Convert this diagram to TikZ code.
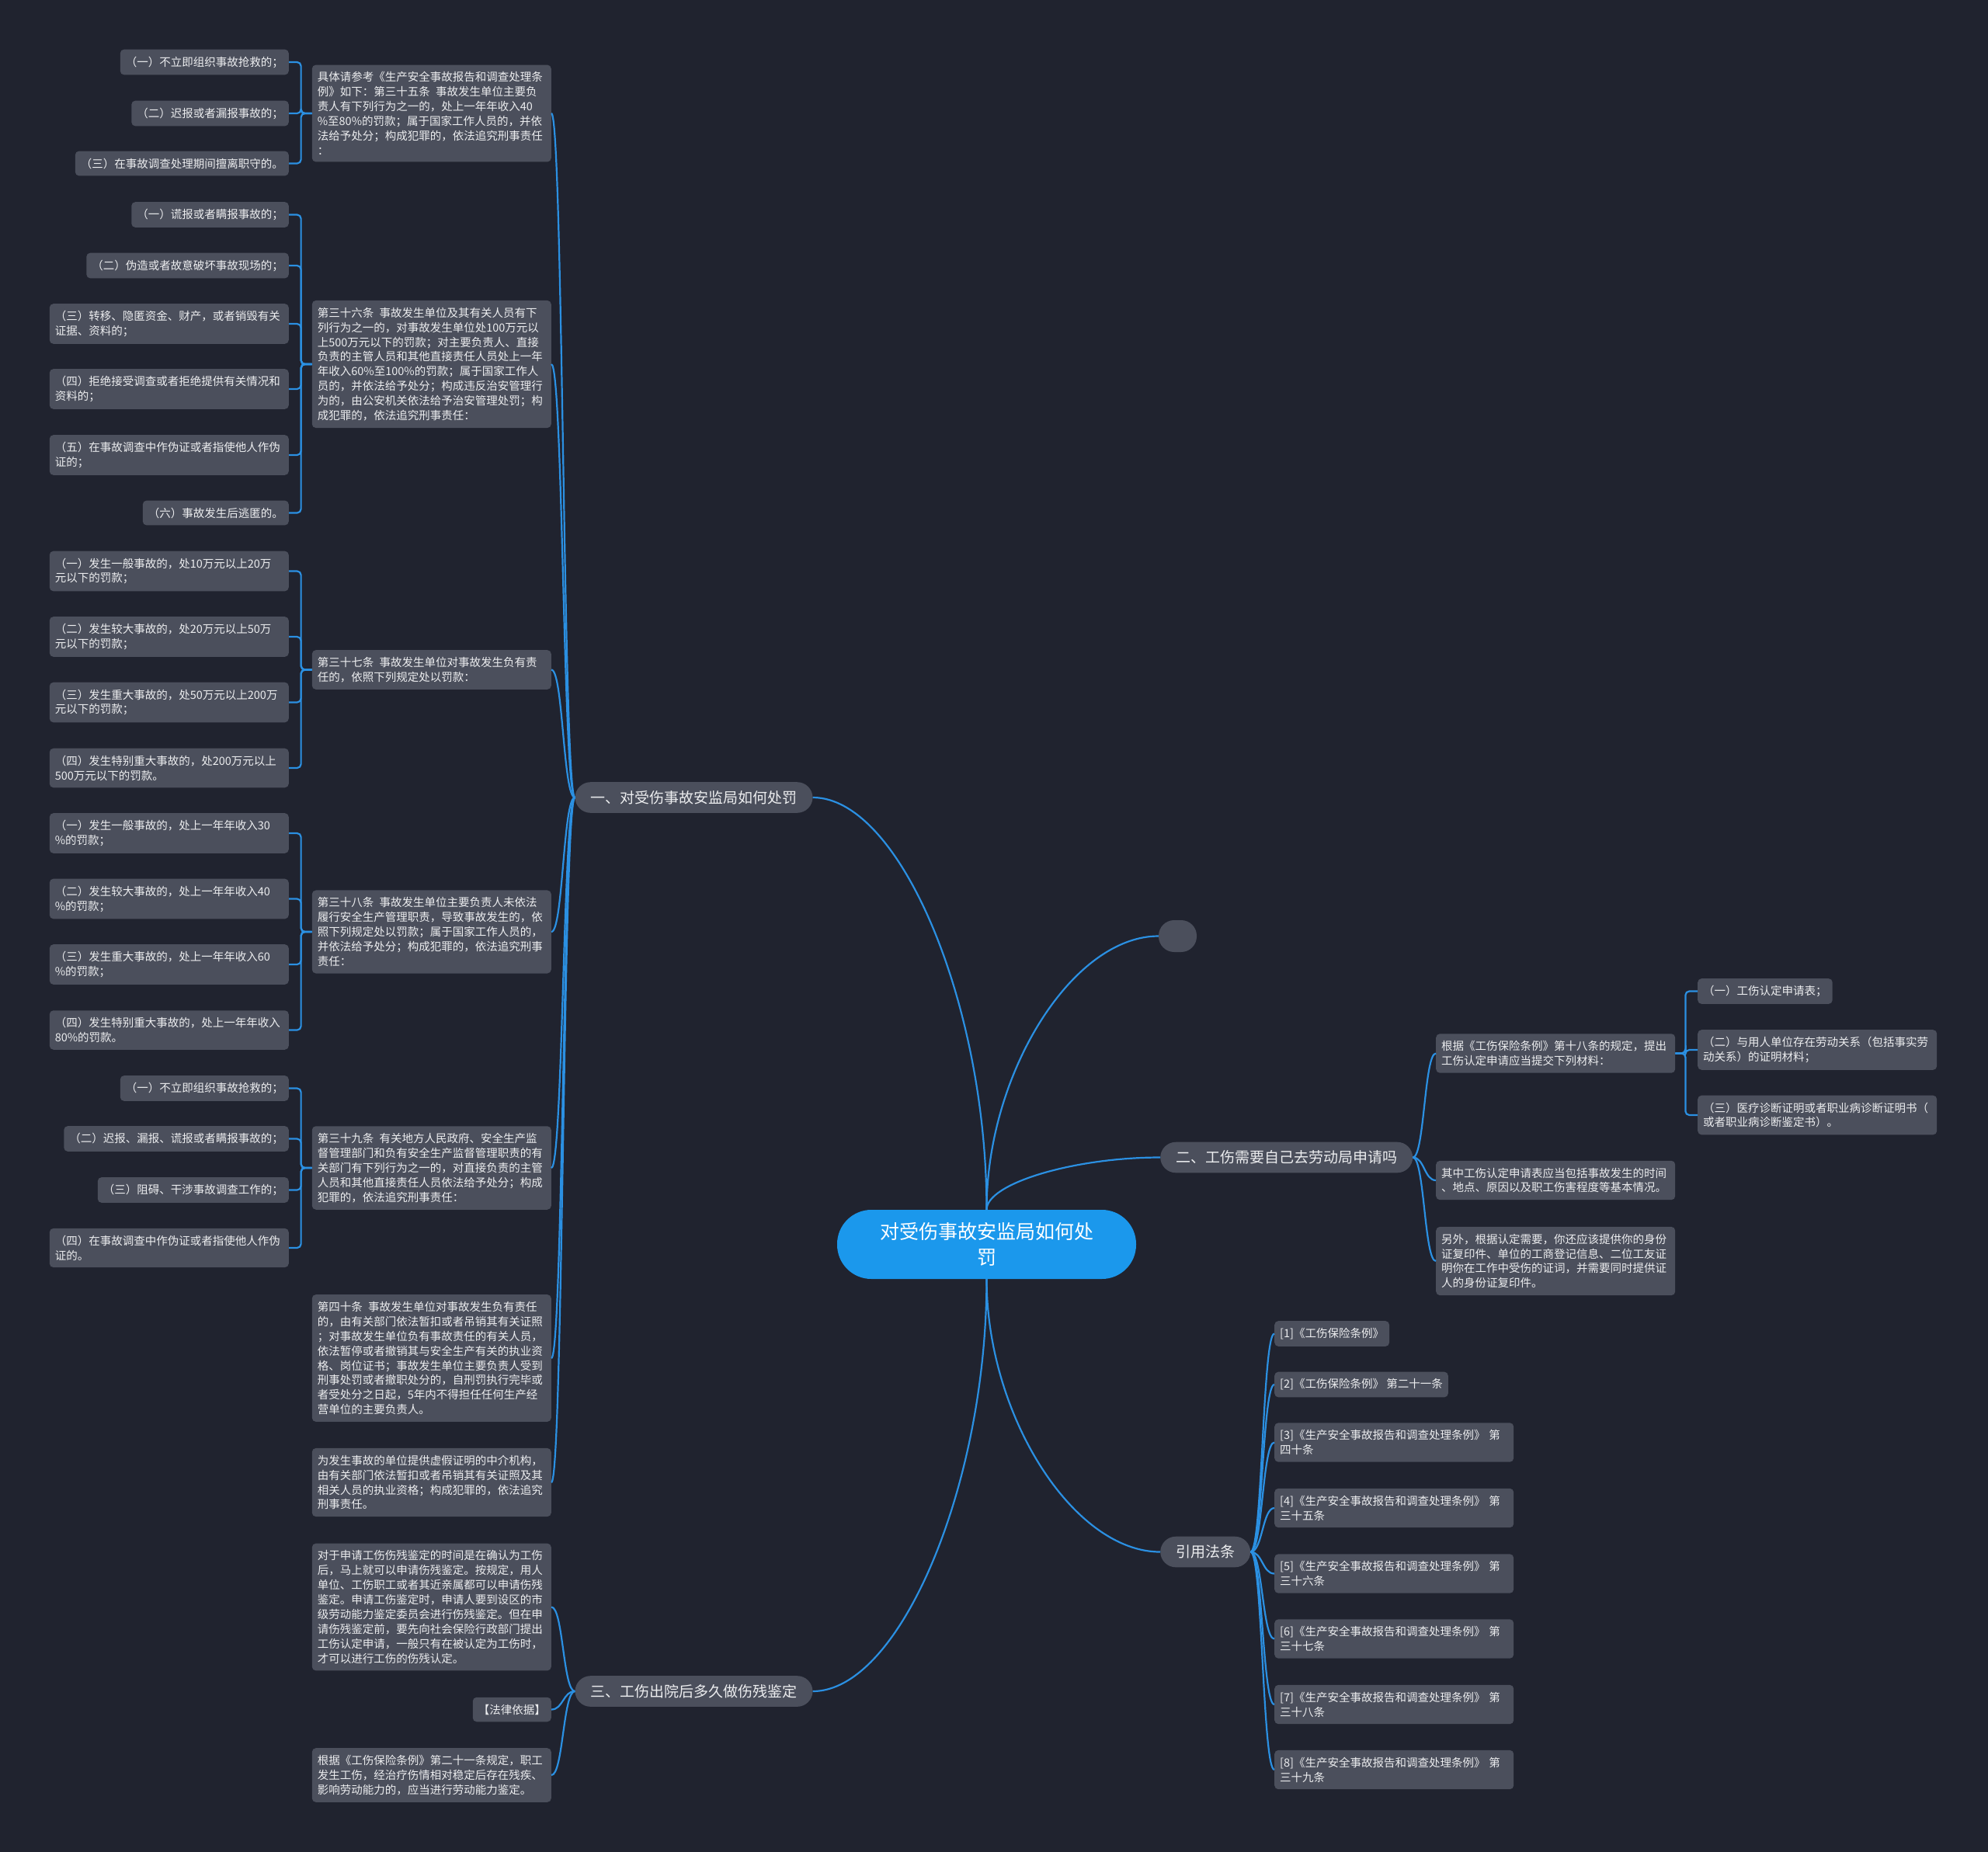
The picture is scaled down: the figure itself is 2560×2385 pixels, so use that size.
\documentclass[tikz,border=0pt]{standalone}
\usepackage{fontspec}
\setmainfont{Noto Sans CJK SC}
\usepackage{xcolor}
\usepackage{tikz}
\usetikzlibrary{calc, positioning}
\definecolor{bgcol}{HTML}{20232F}
\definecolor{boxcol}{HTML}{4B4F5C}
\definecolor{linecol}{HTML}{2B90E2}
\definecolor{rootcol}{HTML}{1B98EC}
\definecolor{txtcol}{HTML}{ECEDEF}
\newcommand{\leaffont}{\fontsize{14.5}{18.9}\selectfont}
\newcommand{\topicfont}{\fontsize{19}{24}\selectfont}
\newcommand{\rootfont}{\fontsize{25}{33}\selectfont}
\tikzstyle{leaf}=[rectangle, rounded corners=5pt, fill=boxcol, text=txtcol, font=\leaffont, inner xsep=7pt, inner ysep=9pt]
\tikzstyle{wide}=[leaf, text width=294pt, align=left]
\tikzstyle{topic}=[rectangle, rounded corners=20pt, fill=boxcol, text=txtcol, font=\topicfont, inner xsep=20pt, inner ysep=11pt]
\tikzstyle{rootbox}=[rectangle, rounded corners=44pt, fill=rootcol, text=white, font=\rootfont, align=center, minimum width=385pt, minimum height=89pt]

\begin{document}
\begin{tikzpicture}[x=1pt, y=1pt]

\tikzset{link/.style={draw=linecol, line width=2.2pt}}
\tikzset{vcurve/.style={to path={.. controls ($(\tikztostart)!.5!(\tikztostart |- \tikztotarget)$) and ($(\tikztotarget)!.5!(\tikztostart |- \tikztotarget)$) .. (\tikztotarget)}}}
\tikzset{hcurve/.style={to path={.. controls ($(\tikztostart)!.5!(\tikztotarget |- \tikztostart)$) and ($(\tikztotarget)!.5!(\tikztostart |- \tikztotarget)$) .. (\tikztotarget)}}}

% Background
\fill[bgcol] (0,0) rectangle (2560,-2385);

% Centre and main topics
\node[rootbox] (root) at (1270.5,-1602.5) {对受伤事故安监局如何处\\罚};
\node[topic] (t1) at (893.5,-1027) {一、对受伤事故安监局如何处罚};
\node[topic] (t3) at (893.5,-2178) {三、工伤出院后多久做伤残鉴定};
\node[topic, anchor=west] (t2) at (1494,-1490.5) {二、工伤需要自己去劳动局申请吗};
\node[topic, anchor=west] (t4) at (1494,-1998.5) {引用法条};
\node[rectangle, rounded corners=20pt, fill=boxcol, minimum width=49pt, minimum height=41pt] (blank) at (1516.5,-1205.5) {};

% Branch one: articles
\node[wide, anchor=east] (t1-1) at (710,-146) {具体请参考《生产安全事故报告和调查处理条\\例》如下：第三十五条\enspace 事故发生单位主要负\\责人有下列行为之一的，处上一年年收入40\\\%至80\%的罚款；属于国家工作人员的，并依\\法给予处分；构成犯罪的，依法追究刑事责任\\：};
\node[wide, anchor=east] (t1-2) at (710,-469) {第三十六条\enspace 事故发生单位及其有关人员有下\\列行为之一的，对事故发生单位处100万元以\\上500万元以下的罚款；对主要负责人、直接\\负责的主管人员和其他直接责任人员处上一年\\年收入60\%至100\%的罚款；属于国家工作人\\员的，并依法给予处分；构成违反治安管理行\\为的，由公安机关依法给予治安管理处罚；构\\成犯罪的，依法追究刑事责任：};
\node[wide, anchor=east] (t1-3) at (710,-862.5) {第三十七条\enspace 事故发生单位对事故发生负有责\\任的，依照下列规定处以罚款：};
\node[wide, anchor=east] (t1-4) at (710,-1200) {第三十八条\enspace 事故发生单位主要负责人未依法\\履行安全生产管理职责，导致事故发生的，依\\照下列规定处以罚款；属于国家工作人员的，\\并依法给予处分；构成犯罪的，依法追究刑事\\责任：};
\node[wide, anchor=east] (t1-5) at (710,-1504) {第三十九条\enspace 有关地方人民政府、安全生产监\\督管理部门和负有安全生产监督管理职责的有\\关部门有下列行为之一的，对直接负责的主管\\人员和其他直接责任人员依法给予处分；构成\\犯罪的，依法追究刑事责任：};
\node[wide, anchor=east] (t1-6) at (710,-1749) {第四十条\enspace 事故发生单位对事故发生负有责任\\的，由有关部门依法暂扣或者吊销其有关证照\\；对事故发生单位负有事故责任的有关人员，\\依法暂停或者撤销其与安全生产有关的执业资\\格、岗位证书；事故发生单位主要负责人受到\\刑事处罚或者撤职处分的，自刑罚执行完毕或\\者受处分之日起，5年内不得担任任何生产经\\营单位的主要负责人。};
\node[wide, anchor=east] (t1-7) at (710,-1909) {为发生事故的单位提供虚假证明的中介机构，\\由有关部门依法暂扣或者吊销其有关证照及其\\相关人员的执业资格；构成犯罪的，依法追究\\刑事责任。};

% Items of article 35
\node[leaf, anchor=east] (t1-1-1) at (372,-80) {（一）不立即组织事故抢救的；};
\node[leaf, anchor=east] (t1-1-2) at (372,-146) {（二）迟报或者漏报事故的；};
\node[leaf, anchor=east] (t1-1-3) at (372,-210.5) {（三）在事故调查处理期间擅离职守的。};

% Items of article 36
\node[leaf, anchor=east] (t1-2-1) at (372,-276.5) {（一）谎报或者瞒报事故的；};
\node[leaf, anchor=east] (t1-2-2) at (372,-342) {（二）伪造或者故意破坏事故现场的；};
\node[wide, anchor=east] (t1-2-3) at (372,-417) {（三）转移、隐匿资金、财产，或者销毁有关\\证据、资料的；};
\node[wide, anchor=east] (t1-2-4) at (372,-501) {（四）拒绝接受调查或者拒绝提供有关情况和\\资料的；};
\node[wide, anchor=east] (t1-2-5) at (372,-586) {（五）在事故调查中作伪证或者指使他人作伪\\证的；};
\node[leaf, anchor=east] (t1-2-6) at (372,-660.5) {（六）事故发生后逃匿的。};

% Items of article 37
\node[wide, anchor=east] (t1-3-1) at (372,-735.5) {（一）发生一般事故的，处10万元以上20万\\元以下的罚款；};
\node[wide, anchor=east] (t1-3-2) at (372,-820) {（二）发生较大事故的，处20万元以上50万\\元以下的罚款；};
\node[wide, anchor=east] (t1-3-3) at (372,-904.5) {（三）发生重大事故的，处50万元以上200万\\元以下的罚款；};
\node[wide, anchor=east] (t1-3-4) at (372,-989) {（四）发生特别重大事故的，处200万元以上\\500万元以下的罚款。};

% Items of article 38
\node[wide, anchor=east] (t1-4-1) at (372,-1073) {（一）发生一般事故的，处上一年年收入30\\\%的罚款；};
\node[wide, anchor=east] (t1-4-2) at (372,-1157.5) {（二）发生较大事故的，处上一年年收入40\\\%的罚款；};
\node[wide, anchor=east] (t1-4-3) at (372,-1242) {（三）发生重大事故的，处上一年年收入60\\\%的罚款；};
\node[wide, anchor=east] (t1-4-4) at (372,-1326.5) {（四）发生特别重大事故的，处上一年年收入\\80\%的罚款。};

% Items of article 39
\node[leaf, anchor=east] (t1-5-1) at (372,-1401.5) {（一）不立即组织事故抢救的；};
\node[leaf, anchor=east] (t1-5-2) at (372,-1466.5) {（二）迟报、漏报、谎报或者瞒报事故的；};
\node[leaf, anchor=east] (t1-5-3) at (372,-1532.5) {（三）阻碍、干涉事故调查工作的；};
\node[wide, anchor=east] (t1-5-4) at (372,-1607) {（四）在事故调查中作伪证或者指使他人作伪\\证的。};

% Branch three
\node[wide, anchor=east] (t3-1) at (710,-2069.5) {对于申请工伤伤残鉴定的时间是在确认为工伤\\后，马上就可以申请伤残鉴定。按规定，用人\\单位、工伤职工或者其近亲属都可以申请伤残\\鉴定。申请工伤鉴定时，申请人要到设区的市\\级劳动能力鉴定委员会进行伤残鉴定。但在申\\请伤残鉴定前，要先向社会保险行政部门提出\\工伤认定申请，一般只有在被认定为工伤时，\\才可以进行工伤的伤残认定。};
\node[leaf, anchor=east] (t3-2) at (710,-2201.5) {【法律依据】};
\node[wide, anchor=east] (t3-3) at (710,-2286) {根据《工伤保险条例》第二十一条规定，职工\\发生工伤，经治疗伤情相对稳定后存在残疾、\\影响劳动能力的，应当进行劳动能力鉴定。};

% Branch two
\node[wide, anchor=west] (t2-1) at (1849,-1356.5) {根据《工伤保险条例》第十八条的规定，提出\\工伤认定申请应当提交下列材料：};
\node[wide, anchor=west] (t2-2) at (1849,-1520) {其中工伤认定申请表应当包括事故发生的时间\\、地点、原因以及职工伤害程度等基本情况。};
\node[wide, anchor=west] (t2-3) at (1849,-1624) {另外，根据认定需要，你还应该提供你的身份\\证复印件、单位的工商登记信息、二位工友证\\明你在工作中受伤的证词，并需要同时提供证\\人的身份证复印件。};
\node[leaf, anchor=west] (t2-1-1) at (2186,-1276.5) {（一）工伤认定申请表；};
\node[wide, anchor=west] (t2-1-2) at (2186,-1352) {（二）与用人单位存在劳动关系（包括事实劳\\动关系）的证明材料；};
\node[wide, anchor=west] (t2-1-3) at (2186,-1436) {（三）医疗诊断证明或者职业病诊断证明书（\\或者职业病诊断鉴定书）。};

% Cited laws
\node[leaf, anchor=west] (t4-1) at (1641,-1717.5) {[1]《工伤保险条例》};
\node[leaf, anchor=west] (t4-2) at (1641,-1783) {[2]《工伤保险条例》~第二十一条};
\node[wide, anchor=west] (t4-3) at (1641,-1857.5) {[3]《生产安全事故报告和调查处理条例》~第\\四十条};
\node[wide, anchor=west] (t4-4) at (1641,-1942) {[4]《生产安全事故报告和调查处理条例》~第\\三十五条};
\node[wide, anchor=west] (t4-5) at (1641,-2026.5) {[5]《生产安全事故报告和调查处理条例》~第\\三十六条};
\node[wide, anchor=west] (t4-6) at (1641,-2110.5) {[6]《生产安全事故报告和调查处理条例》~第\\三十七条};
\node[wide, anchor=west] (t4-7) at (1641,-2195) {[7]《生产安全事故报告和调查处理条例》~第\\三十八条};
\node[wide, anchor=west] (t4-8) at (1641,-2279) {[8]《生产安全事故报告和调查处理条例》~第\\三十九条};

% Curves from the centre
\draw[link] (root.north) to[vcurve] (t1.east);
\draw[link] (root.north) to[vcurve] (blank.west);
\draw[link] (root.north) to[vcurve] (t2.west);
\draw[link] (root.south) to[vcurve] (t4.west);
\draw[link] (root.south) to[vcurve] (t3.east);

% Topics to their entries
\foreach \i in {1,...,7} \draw[link] (t1.west) to[hcurve] (t1-\i.east);
\foreach \i in {1,2,3} \draw[link] (t3.west) to[hcurve] (t3-\i.east);
\foreach \i in {1,2,3} \draw[link] (t2.east) to[hcurve] (t2-\i.west);
\foreach \i in {1,...,8} \draw[link] (t4.east) to[hcurve] (t4-\i.west);

% Brackets to the items
\foreach \j in {1,2,3} \draw[link, rounded corners=5pt] (t1-1.west) -- ++(-14,0) |- (t1-1-\j.east);
\foreach \j in {1,...,6} \draw[link, rounded corners=5pt] (t1-2.west) -- ++(-14,0) |- (t1-2-\j.east);
\foreach \j in {1,...,4} \draw[link, rounded corners=5pt] (t1-3.west) -- ++(-14,0) |- (t1-3-\j.east);
\foreach \j in {1,...,4} \draw[link, rounded corners=5pt] (t1-4.west) -- ++(-14,0) |- (t1-4-\j.east);
\foreach \j in {1,...,4} \draw[link, rounded corners=5pt] (t1-5.west) -- ++(-14,0) |- (t1-5-\j.east);
\foreach \j in {1,2,3} \draw[link, rounded corners=5pt] (t2-1.east) -- ++(13,0) |- (t2-1-\j.west);

\end{tikzpicture}
\end{document}
